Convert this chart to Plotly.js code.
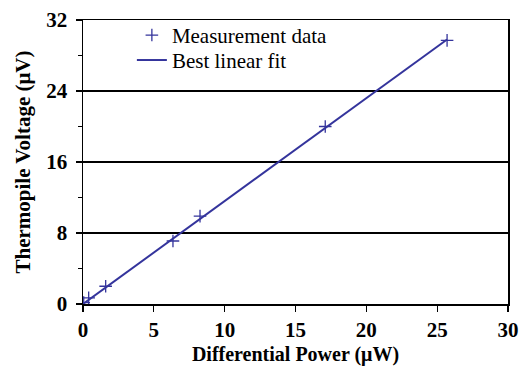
<!DOCTYPE html>
<html><head><meta charset="utf-8">
<script src="https://cdn.plot.ly/plotly-3.0.1.min.js"></script>
<style>html,body{margin:0;padding:0;background:#fff}#c{width:520px;height:369px}</style>
</head><body><div id="c"></div>
<script>
var measX = [0.05, 0.4, 1.6, 6.35, 8.26, 17.1, 25.7];
var measY = [0.15, 0.7, 2.0, 7.1, 9.9, 20.0, 29.7];
var fitX = [0, 25.7];
var fitY = [0, 29.8];
var xTicks = [0, 5, 10, 15, 20, 25, 30];
var yTicks = [0, 8, 16, 24, 32];
var blue = '#34349c';
var serif = 'Liberation Serif';
var legFont = {family: serif, size: 21, color: '#000'};
Plotly.newPlot('c', [
  {x: measX, y: measY, mode: 'markers', name: 'Measurement data', legend: 'legend',
   marker: {symbol: 'cross-thin-open', size: 9, color: blue, line: {color: blue, width: 1.3}}},
  {x: fitX, y: fitY, mode: 'lines', name: 'Best linear fit', legend: 'legend2',
   line: {color: blue, width: 2}}
], {
  width: 520, height: 369,
  margin: {l: 83, r: 12, t: 20, b: 65},
  paper_bgcolor: '#fff', plot_bgcolor: '#fff',
  font: {family: serif, color: '#000'},
  showlegend: true,
  legend: {x: 0.115, y: 1.018, xanchor: 'left', yanchor: 'top', bgcolor: 'rgba(0,0,0,0)', font: legFont},
  legend2: {x: 0.115, y: 0.93, xanchor: 'left', yanchor: 'top', bgcolor: 'rgba(0,0,0,0)', font: legFont},
  xaxis: {range: [0, 30], tickvals: xTicks, ticks: 'outside', ticklen: 6, tickwidth: 1.2, tickcolor: '#000',
          showline: true, linecolor: '#000', linewidth: 1.5, mirror: true, showgrid: false, zeroline: false,
          tickfont: {family: serif, size: 21, weight: 'bold', color: '#000'},
          title: {text: 'Differential Power (μW)', font: {family: serif, size: 20, weight: 'bold', color: '#000'}, standoff: 6}},
  yaxis: {range: [0, 32], tickvals: yTicks, ticks: 'outside', ticklen: 6, tickwidth: 1.2, tickcolor: '#000',
          showline: true, linecolor: '#000', linewidth: 1.5, mirror: true, showgrid: true, gridcolor: '#000', gridwidth: 1.2,
          zeroline: false, ticklabelstandoff: 4,
          minor: {tickvals: [4, 12, 20, 28], ticks: 'outside', ticklen: 4, tickcolor: '#000', showgrid: false},
          tickfont: {family: serif, size: 21, weight: 'bold', color: '#000'},
          title: {text: 'Thermopile Voltage (μV)', font: {family: serif, size: 21, weight: 'bold', color: '#000'}, standoff: 10}}
}, {displayModeBar: false, staticPlot: true});
</script></body></html>
